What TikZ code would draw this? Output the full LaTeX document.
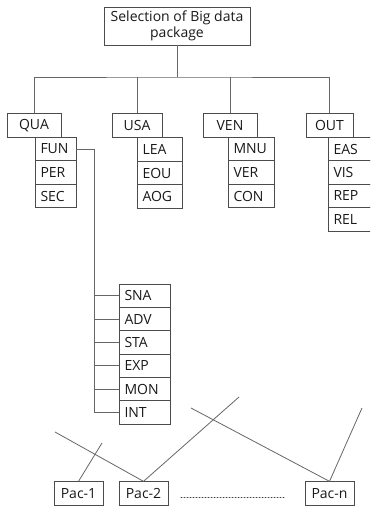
\documentclass[tikz,border=0pt]{standalone}
\usepackage{fontspec}
\setmainfont{Open Sans}
\begin{document}
\begin{tikzpicture}[x=1pt,y=-1pt,
  every node/.style={font=\fontsize{14}{15.5}\selectfont, text=black!90},
  conn/.style={draw=black!60, line width=0.8pt},
  hbox/.style={draw=black!70, line width=0.8pt, minimum height=23.5pt, inner sep=0pt, minimum width=#1},
  sbox/.style={draw=black!70, line width=0.8pt, minimum height=23.5pt, inner ysep=0pt, inner xsep=5.5pt, text width=#1-11pt, align=left},
]
\useasboundingbox (0,0) rectangle (370,506);
\clip (0,0) rectangle (370,506);
% top
\node[draw=black!70, line width=0.8pt, minimum width=146pt, minimum height=38pt, inner sep=0pt, align=center] (top) at (177,26) {Selection of Big data\\package};
% level 1
\node[hbox=54pt] (qua) at (34,125.5) {QUA};
\node[hbox=50pt] (usa) at (137,125.5) {USA};
\node[hbox=54pt] (ven) at (230,125.5) {VEN};
\node[hbox=47pt] (out) at (329.5,125.5) {OUT};
\coordinate (hub) at (177,77);
\draw[conn] (top.south) -- (hub);
\draw[conn] (qua.north) |- (hub) -| (out.north);
\draw[conn] (usa.north) -- (usa.north |- hub);
\draw[conn] (ven.north) -- (ven.north |- hub);
% QUA column
\node[sbox=41pt] (fun) at (55.5,149) {FUN};
\node[sbox=41pt] (per) at (55.5,172.5) {PER};
\node[sbox=41pt] (sec) at (55.5,196) {SEC};
% USA column
\node[sbox=45pt] (lea) at (159.5,149.5) {LEA};
\node[sbox=45pt] (eou) at (159.5,173) {EOU};
\node[sbox=45pt] (aog) at (159.5,196.5) {AOG};
% VEN column
\node[sbox=46pt] (mnu) at (251,149) {MNU};
\node[sbox=46pt] (ver) at (251,172.5) {VER};
\node[sbox=46pt] (con) at (251,196) {CON};
% OUT column
\node[sbox=44pt] (eas) at (350,149) {EAS};
\node[sbox=44pt] (vis) at (350,172.5) {VIS};
\node[sbox=44pt] (rep) at (350,196) {REP};
\node[sbox=44pt] (rel) at (350,219.5) {REL};
% FUN sub column
\node[sbox=51pt] (sna) at (144.5,295.7) {SNA};
\node[sbox=51pt] (adv) at (144.5,319.1) {ADV};
\node[sbox=51pt] (sta) at (144.5,342.4) {STA};
\node[sbox=51pt] (exp) at (144.5,365.8) {EXP};
\node[sbox=51pt] (mon) at (144.5,389.1) {MON};
\node[sbox=51pt] (int) at (144.5,412.5) {INT};
\coordinate (bend) at (94,149);
\draw[conn] (fun.east) -- (bend) -- (bend |- int.west) -- (int.west);
\foreach \n in {sna,adv,sta,exp,mon}{
  \draw[conn] (bend |- \n.west) -- (\n.west);
}
% packages
\node[hbox=49pt] (p1) at (78.5,493.5) {Pac-1};
\node[hbox=49pt] (p2) at (143.5,493.5) {Pac-2};
\node[hbox=49pt] (pn) at (329.5,493.5) {Pac-n};
\draw[black!75, line width=1pt, dotted, line cap=round] (181,497) -- (284,497);
\coordinate (a1) at (55,432);
\coordinate (a2) at (102,443);
\coordinate (a3) at (239,397);
\coordinate (a4) at (191,408);
\coordinate (a5) at (362,408);
\draw[conn] (a1) -- (p2.north);
\draw[conn] (a2) -- (p1.north);
\draw[conn] (p2.north) -- (a3);
\draw[conn] (a4) -- (pn.north);
\draw[conn] (pn.north) -- (a5);
\end{tikzpicture}
\end{document}
